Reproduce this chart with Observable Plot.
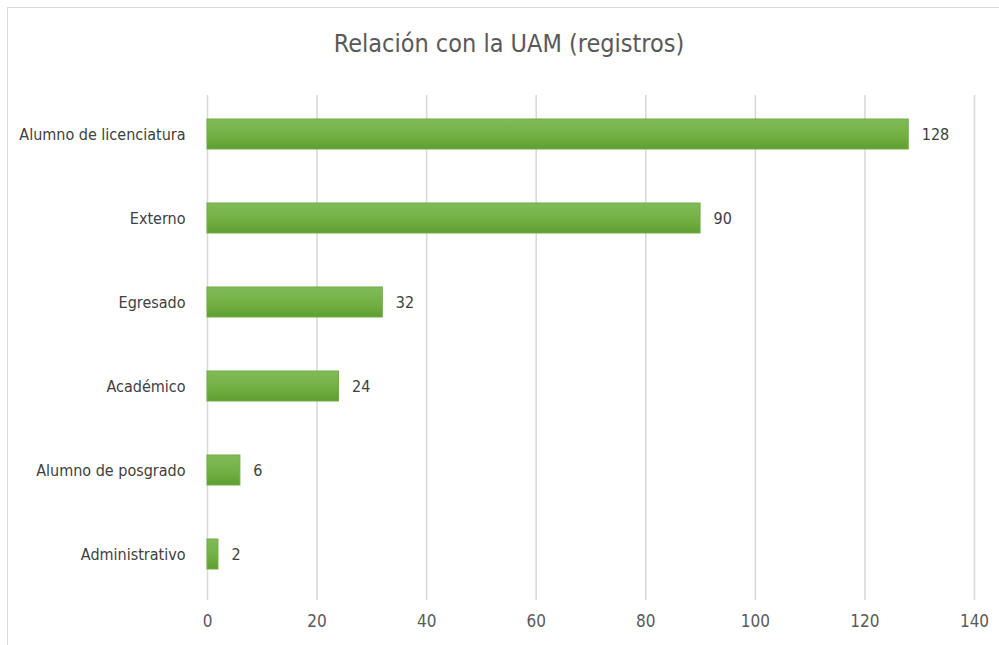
<!DOCTYPE html>
<html>
<head>
<meta charset="utf-8">
<script src="https://cdn.jsdelivr.net/npm/d3@7"></script>
<script src="https://cdn.jsdelivr.net/npm/@observablehq/plot@0.6"></script>
<style>
  html, body { margin: 0; padding: 0; background: #fff; }
  #wrap { position: relative; width: 999px; height: 645px; overflow: hidden; font-family: "Liberation Sans Narrow", "DejaVu Sans Condensed", sans-serif; }
  #frame { position: absolute; left: 7px; top: 7px; width: 1100px; height: 700px; border-left: 1.5px solid #d9d9d9; border-top: 1.5px solid #d9d9d9; }
  #title { position: absolute; left: 0; width: 1018px; top: 29px; text-align: center; font-size: 25px; color: #595959; }
  #chart { position: absolute; left: 0; top: 0; }
</style>
</head>
<body>
<div id="wrap">
  <div id="frame"></div>
  <div id="chart"></div>
  <div id="title">Relación con la UAM (registros)</div>
</div>
<script>
const categories = ["Alumno de licenciatura", "Externo", "Egresado", "Académico", "Alumno de posgrado", "Administrativo"];
const values = [128, 90, 32, 24, 6, 2];
const xTicks = [0, 20, 40, 60, 80, 100, 120, 140];

const data = categories.map((c, i) => ({category: c, value: values[i]}));

const plot = Plot.plot({
  width: 999,
  height: 645,
  marginLeft: 207,
  marginRight: 25,
  marginTop: 92,
  marginBottom: 49,
  style: {fontFamily: '"Liberation Sans Narrow", "DejaVu Sans Condensed", sans-serif', fontSize: "16px", color: "#595959", background: "transparent"},
  x: {domain: [0, 140], ticks: xTicks, label: null},
  y: {domain: categories, padding: 0, label: null},
  marks: [
    Plot.ruleX(xTicks, {stroke: "#d9d9d9", strokeWidth: 1.6, insetTop: 3, insetBottom: -4}),
    Plot.barX(data, {x: "value", y: "category", fill: "url(#barGrad)", stroke: "#6fae45", strokeWidth: 1, insetTop: 27, insetBottom: 27}),
    Plot.text(data, {x: "value", y: "category", text: d => String(d.value), dx: 13, textAnchor: "start", fill: "#404040", fontSize: 16}),
    Plot.axisX({ticks: xTicks, tickSize: 0, tickPadding: 18, fontSize: 17, fill: "#595959", label: null}),
    Plot.axisY({tickSize: 0, tickPadding: 22, fontSize: 16, fill: "#404040", label: null})
  ]
});

const svg = d3.select(plot);
const defs = svg.insert("defs", ":first-child");
const grad = defs.append("linearGradient").attr("id", "barGrad").attr("x1", 0).attr("y1", 0).attr("x2", 0).attr("y2", 1);
grad.append("stop").attr("offset", "0%").attr("stop-color", "#81bb5a");
grad.append("stop").attr("offset", "55%").attr("stop-color", "#72b043");
grad.append("stop").attr("offset", "100%").attr("stop-color", "#5e9f30");

document.getElementById("chart").appendChild(plot);
</script>
</body>
</html>
